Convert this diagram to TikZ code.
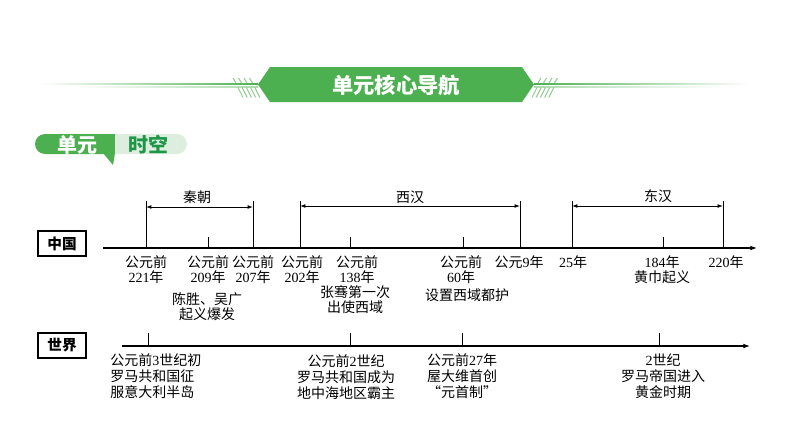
\documentclass[tikz,border=0pt]{standalone}
\usepackage{fontspec}
\setmainfont{Liberation Serif}
\newfontfamily\cjk{Noto Sans CJK SC}
\usepackage{tikz}
\usetikzlibrary{arrows.meta}
\usetikzlibrary{positioning}

\definecolor{navgreen}{RGB}{76,176,80}
\definecolor{tagpale}{RGB}{222,238,222}
\definecolor{tagtext}{RGB}{30,150,72}
\definecolor{hatchgreen}{RGB}{150,205,150}

\newcommand{\yr}[1]{{\rmfamily #1}}

\tikzset{
  ev/.style={font=\cjk\fontsize{10.5}{11.5}\selectfont, align=center, inner sep=0pt, anchor=north},
  wev/.style={ev, font=\cjk\fontsize{10.5}{12.2}\selectfont},
  era/.style={font=\cjk\fontsize{10.5}{11.5}\selectfont, inner sep=0pt},
  region/.style={draw, line width=0.8pt, minimum width=36pt, minimum height=18.75pt, inner sep=0pt,
    font=\cjk\bfseries\fontsize{11}{11}\selectfont},
  axis/.style={line width=0.8pt, -{Latex[length=5pt,width=3.5pt]}},
  tick/.style={line width=0.6pt},
  span/.style={line width=0.6pt, {Latex[length=4pt,width=2.8pt]}-{Latex[length=4pt,width=2.8pt]}},
  hatch/.style={hatchgreen, line width=0.8pt},
  tagtxt/.style={font=\cjk\bfseries\fontsize{15}{15}\selectfont, inner sep=0pt}
}

\begin{document}
\begin{tikzpicture}[x=0.75pt,y=-0.75pt]
    \useasboundingbox (0,0) rectangle (794,447);
    % header banner
    \shade[left color=white, right color=navgreen] (40,83) rectangle (258,84.6);
    \shade[left color=white, right color=navgreen!45] (70,86) rectangle (258,87.3);
    \shade[right color=white, left color=navgreen] (534,83) rectangle (750,84.6);
    \shade[right color=white, left color=navgreen!45] (534,86) rectangle (725,87.3);
    \foreach \i in {0,...,3} \draw[hatch] (233+5.5*\i,78) -- ++(3,5);
    \foreach \i in {0,...,4} \draw[hatch] (238+4.2*\i,87.5) -- ++(5,10);
    \foreach \i in {0,...,3} \draw[hatch] (541+5.5*\i,78) -- ++(-3,5);
    \foreach \i in {0,...,4} \draw[hatch] (537+4.2*\i,87.5) -- ++(-5,10);
    \fill[navgreen] (258,84.5) -- (270,67) -- (522,67) -- (534,84.5) -- (522,102) -- (270,102) -- cycle;
    \node[font=\cjk\bfseries\fontsize{16}{16}\selectfont, text=white] (nav) at (396,85) {单元核心导航};

    % tag
    \fill[navgreen] (115,134) [rounded corners=7.5pt] -- (35,134) -- (35,154) [sharp corners] -- (115,154) -- cycle;
    \fill[navgreen] (103,153) -- (115,153) -- (113,165) -- cycle;
    \fill[tagpale] (115,134) [rounded corners=7.5pt] -- (187,134) -- (187,154) [sharp corners] -- (115,154) -- cycle;
    \node[tagtxt, text=white] (dy) at (77,144.5) {单元};
    \node[tagtxt, text=tagtext] (sk) at (148,144.5) {时空};

    % China
    \node[region] (zg) at (62,243.5) {中国};
    \coordinate (cs) at (103,248);
    \coordinate (ce) at (757,248);
    \draw[axis] (cs) -- (ce);
    \coordinate (a221) at (146,201);
    \coordinate (a209) at (208,237);
    \coordinate (a207) at (253,201);
    \coordinate (a202) at (300,201);
    \coordinate (a138) at (350,237);
    \coordinate (a60) at (463,237);
    \coordinate (a9) at (520,201);
    \coordinate (a25) at (572,201);
    \coordinate (a184) at (663,237);
    \coordinate (a220) at (723,201);
    \foreach \t in {a221,a209,a207,a202,a138,a60,a9,a25,a184,a220}
      \draw[tick] (\t) -- (\t |- cs);
    \draw[span] (a221 |- 0,207) -- (a207 |- 0,207);
    \draw[span] (a202 |- 0,206) -- (a9 |- 0,206);
    \draw[span] (a25 |- 0,206) -- (a220 |- 0,206);
    \node[era] (qin) at (197,197) {秦朝};
    \node[era] (xh) at (410,197) {西汉};
    \node[era] (dh) at (658,196) {东汉};

    \node[ev] (l221) at (146,255) {公元前\\\yr{221}年};
    \node[ev] (l209) at (208,255) {公元前\\\yr{209}年};
    \node[ev] (l207) at (253,255) {公元前\\\yr{207}年};
    \node[ev] (l202) at (302,255) {公元前\\\yr{202}年};
    \node[ev] (l138) at (357,255) {公元前\\\yr{138}年};
    \node[ev] (l60) at (461,255) {公元前\\\yr{60}年};
    \node[ev] (l9) at (519,255) {公元\yr{9}年};
    \node[ev] (l25) at (573,255) {\yr{25}年};
    \node[ev] (l184) at (662,255) {\yr{184}年\\黄巾起义};
    \node[ev] (l220) at (726,255) {\yr{220}年};
    \node[ev] (cw) at (207,292) {陈胜、吴广\\起义爆发};
    \node[ev] (zq) at (355,285) {张骞第一次\\出使西域};
    \node[ev] (xy) at (467,288) {设置西域都护};

    % world
    \node[region] (sj) at (62,345.5) {世界};
    \coordinate (ws) at (122,346);
    \coordinate (we) at (750,346);
    \draw[axis] (ws) -- (we);
    \coordinate (b3) at (148,333);
    \coordinate (b2) at (350,333);
    \coordinate (b27) at (462,333);
    \coordinate (b2ad) at (659,333);
    \foreach \t in {b3,b2,b27,b2ad}
      \draw[tick] (\t) -- (\t |- ws);
    \node[wev, anchor=north west, align=left] (m3) at (110,353) {公元前\yr{3}世纪初\\罗马共和国征\\服意大利半岛};
    \node[wev] (m2) at (346,354) {公元前\yr{2}世纪\\罗马共和国成为\\地中海地区霸主};
    \node[wev] (m27) at (462,353) {公元前\yr{27}年\\屋大维首创\\“元首制”};
    \node[wev] (m2ad) at (663,353) {\yr{2}世纪\\罗马帝国进入\\黄金时期};
\end{tikzpicture}
\end{document}
